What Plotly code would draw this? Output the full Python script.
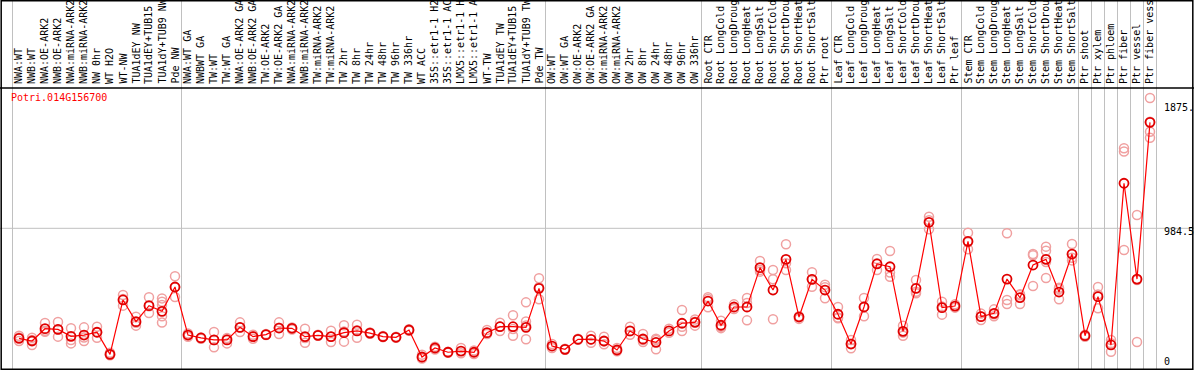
import plotly.graph_objects as go

labels = ["NWA:WT", "NWB:WT", "NWA:OE-ARK2", "NWB:OE-ARK2", "NWA:miRNA-ARK2", "NWB:miRNA-ARK2",
          "NW 0hr", "WT H2O", "WT-NW", "TUA1dEY NW", "TUA1dEY+TUB15", "TUA1dY+TUB9 NW", "Pde NW",
          "NWA:WT GA", "NWBWT GA", "TW:WT", "TW:WT GA", "NWA:OE-ARK2 GA", "NWB:OE-ARK2 GA",
          "TW:OE-ARK2", "TW:OE-ARK2 GA", "NWA:miRNA-ARK2", "NWB:miRNA-ARK2", "TW:miRNA-ARK2",
          "TW:miRNA-ARK2", "TW 2hr", "TW 8hr", "TW 24hr", "TW 48hr", "TW 96hr", "TW 336hr",
          "WT ACC", "35S::etr1-1 H2O", "35S::etr1-1 ACC", "LMX5::etr1-1 H2O", "LMX5::etr1-1 ACC",
          "WT-TW", "TUA1dEY TW", "TUA1dEY+TUB15", "TUA1dY+TUB9 TW", "Pde TW",
          "OW:WT", "OW:WT GA", "OW:OE-ARK2", "OW:OE-ARK2 GA", "OW:miRNA-ARK2", "OW:miRNA-ARK2",
          "OW 2hr", "OW 8hr", "OW 24hr", "OW 48hr", "OW 96hr", "OW 336hr",
          "Root CTR", "Root LongCold", "Root LongDrought", "Root LongHeat", "Root LongSalt",
          "Root ShortCold", "Root ShortDrought", "Root ShortHeat", "Root ShortSalt", "Ptr root",
          "Leaf CTR", "Leaf LongCold", "Leaf LongDrought", "Leaf LongHeat", "Leaf LongSalt",
          "Leaf ShortCold", "Leaf ShortDrought", "Leaf ShortHeat", "Leaf ShortSalt", "Ptr leaf",
          "Stem CTR", "Stem LongCold", "Stem LongDrought", "Stem LongHeat", "Stem LongSalt",
          "Stem ShortCold", "Stem ShortDrought", "Stem ShortHeat", "Stem ShortSalt",
          "Ptr shoot", "Ptr xylem", "Ptr phloem", "Ptr fiber", "Ptr vessel", "Ptr fiber vessel"]

means = [153, 133, 226, 221, 168, 178, 199, 32, 443, 279, 400, 357, 541,
         178, 156, 141, 141, 236, 166, 181, 231, 229, 166, 176, 166, 196, 209, 193, 166, 161, 216,
         12, 80, 48, 57, 48, 196, 241, 241, 236, 531,
         95, 70, 146, 146, 133, 65, 209, 148, 123, 209, 267, 274,
         435, 252, 390, 390, 687, 518, 750, 314, 599, 518,
         335, 110, 390, 715, 694, 206, 531, 1030, 385, 397,
         886, 317, 342, 601, 460, 707, 750, 503, 790,
         173, 468, 103, 1325, 601, 1785]

replicates = [[173, 133, 160], [158, 103, 140], [269, 203, 210], [276, 166, 220], [229, 115, 140],
              [236, 133, 160], [241, 158, 200], [45, 25, 30], [480, 400, 450], [317, 249, 270],
              [463, 345, 395], [455, 430, 405, 320, 272], [622, 465, 540],
              [190, 165, 178], [160, 150], [201, 85, 140], [155, 115, 150], [274, 201, 235],
              [180, 150, 168], [185, 178], [274, 186, 233], [220, 235], [226, 120, 155],
              [180, 172], [211, 125, 165], [252, 128, 205], [256, 158, 215], [198, 188],
              [170, 162], [165, 157], [222, 210],
              [30, 0, 8], [90, 68], [52, 44], [80, 40], [62, 35], [216, 185], [271, 209, 243],
              [327, 173, 224], [425, 281, 250, 146], [607, 448, 540],
              [110, 80], [75, 66], [150, 142], [173, 120, 145], [166, 108, 130], [80, 55],
              [241, 180, 206], [186, 125, 140], [150, 70, 140], [226, 195], [367, 209, 240],
              [249, 295, 278],
              [463, 388, 450], [286, 240, 230], [410, 375], [458, 289, 420], [737, 657, 670],
              [669, 599, 297], [864, 669, 720], [320, 300], [652, 543, 600], [558, 456, 540],
              [390, 305, 310], [78, 140, 112], [458, 320, 392], [752, 669, 720], [813, 619, 650],
              [249, 173, 196], [594, 493, 505], [1072, 977, 1045], [430, 332, 393], [410, 385],
              [951, 826, 880], [292, 340, 320], [372, 320, 335], [947, 443, 413], [486, 413, 480],
              [790, 549, 780], [846, 815, 609, 730], [536, 448, 525], [866, 762, 742],
              [180, 165], [541, 380, 485], [141, 52, 116], [1589, 821, 1565], [1085, 125, 593],
              [1969, 1714, 1669, 1790]]

gene = "Potri.014G156700"
group_breaks = [-0.5, 12.5, 40.5, 52.5, 62.5, 72.5, 81.5, 82.5, 83.5, 84.5, 85.5, 86.5, 87.5]
ytick_vals = [1875, 984.5, 0]
ytick_text = ["1875.", "984.5", "0"]

W, H = 1194, 370
FONT = "DejaVu Sans Mono"
idx = list(range(len(labels)))

rx, ry = [], []
for i, reps in enumerate(replicates):
    for v in reps:
        rx.append(i)
        ry.append(v)

fig = go.Figure()
fig.add_trace(go.Scatter(x=rx, y=ry, mode="markers", hoverinfo="skip",
                         marker=dict(symbol="circle-open", size=9, color="#f0a0a0",
                                     line=dict(width=1.5, color="#f0a0a0"))))
fig.add_trace(go.Scatter(x=idx, y=means, mode="lines+markers",
                         line=dict(color="#ff0000", width=1.2),
                         marker=dict(symbol="circle-open", size=9, color="#e00000",
                                     line=dict(width=1.8, color="#e00000"))))

px_per_unit = 13.0
x0 = -19 / px_per_unit
x1 = x0 + W / px_per_unit
ydom_top = 282 / H
val_per_px = 984.5 / 130.3
y_zero_px = 358.6
yr0 = (y_zero_px - 370) * val_per_px
yr1 = (y_zero_px - 88) * val_per_px

shapes = []
for b in group_breaks:
    shapes.append(dict(type="line", xref="x", yref="paper", x0=b, x1=b, y0=0, y1=1,
                       line=dict(color="#c0c0c0", width=1), layer="below"))
shapes.append(dict(type="line", xref="paper", yref="y", x0=0, x1=1, y0=984.5, y1=984.5,
                   line=dict(color="#c0c0c0", width=1), layer="below"))
# frame
shapes.append(dict(type="line", xref="paper", yref="paper", x0=0, x1=1, y0=ydom_top, y1=ydom_top,
                   line=dict(color="black", width=1.5)))
shapes.append(dict(type="rect", xref="paper", yref="paper", x0=0.001, x1=0.999, y0=0.002, y1=0.998,
                   line=dict(color="black", width=1.5)))

ann = []
for i, lab in enumerate(labels):
    ann.append(dict(x=i, y=(H - 86) / H, xref="x", yref="paper", text=lab, showarrow=False,
                    textangle=-90, xanchor="center", yanchor="bottom",
                    font=dict(family=FONT, size=10, color="black")))
ann.append(dict(x=9 / W, y=(H - 97) / H, xref="paper", yref="paper", text=gene, showarrow=False,
                xanchor="left", yanchor="middle", font=dict(family=FONT, size=10, color="#ff0000")))
for v, t in zip(ytick_vals, ytick_text):
    ann.append(dict(x=1162 / W, y=v, xref="paper", yref="y", text=t, showarrow=False,
                    xanchor="left", yanchor="middle", yshift=(3 if v > 1000 else -3),
                    font=dict(family=FONT, size=10, color="black")))

fig.update_layout(
    width=W, height=H, margin=dict(l=0, r=0, t=0, b=0),
    paper_bgcolor="white", plot_bgcolor="white", showlegend=False,
    xaxis=dict(range=[x0, x1], showgrid=False, zeroline=False, showticklabels=False,
               ticks="", showline=False, fixedrange=True),
    yaxis=dict(domain=[0, ydom_top], range=[yr0, yr1], showgrid=False, zeroline=False,
               showticklabels=False, ticks="", showline=False, fixedrange=True),
    shapes=shapes, annotations=ann,
)
fig.write_html("out.html", config={"displayModeBar": False},
               post_script="document.body.style.margin='0';document.body.style.overflow='hidden';")
